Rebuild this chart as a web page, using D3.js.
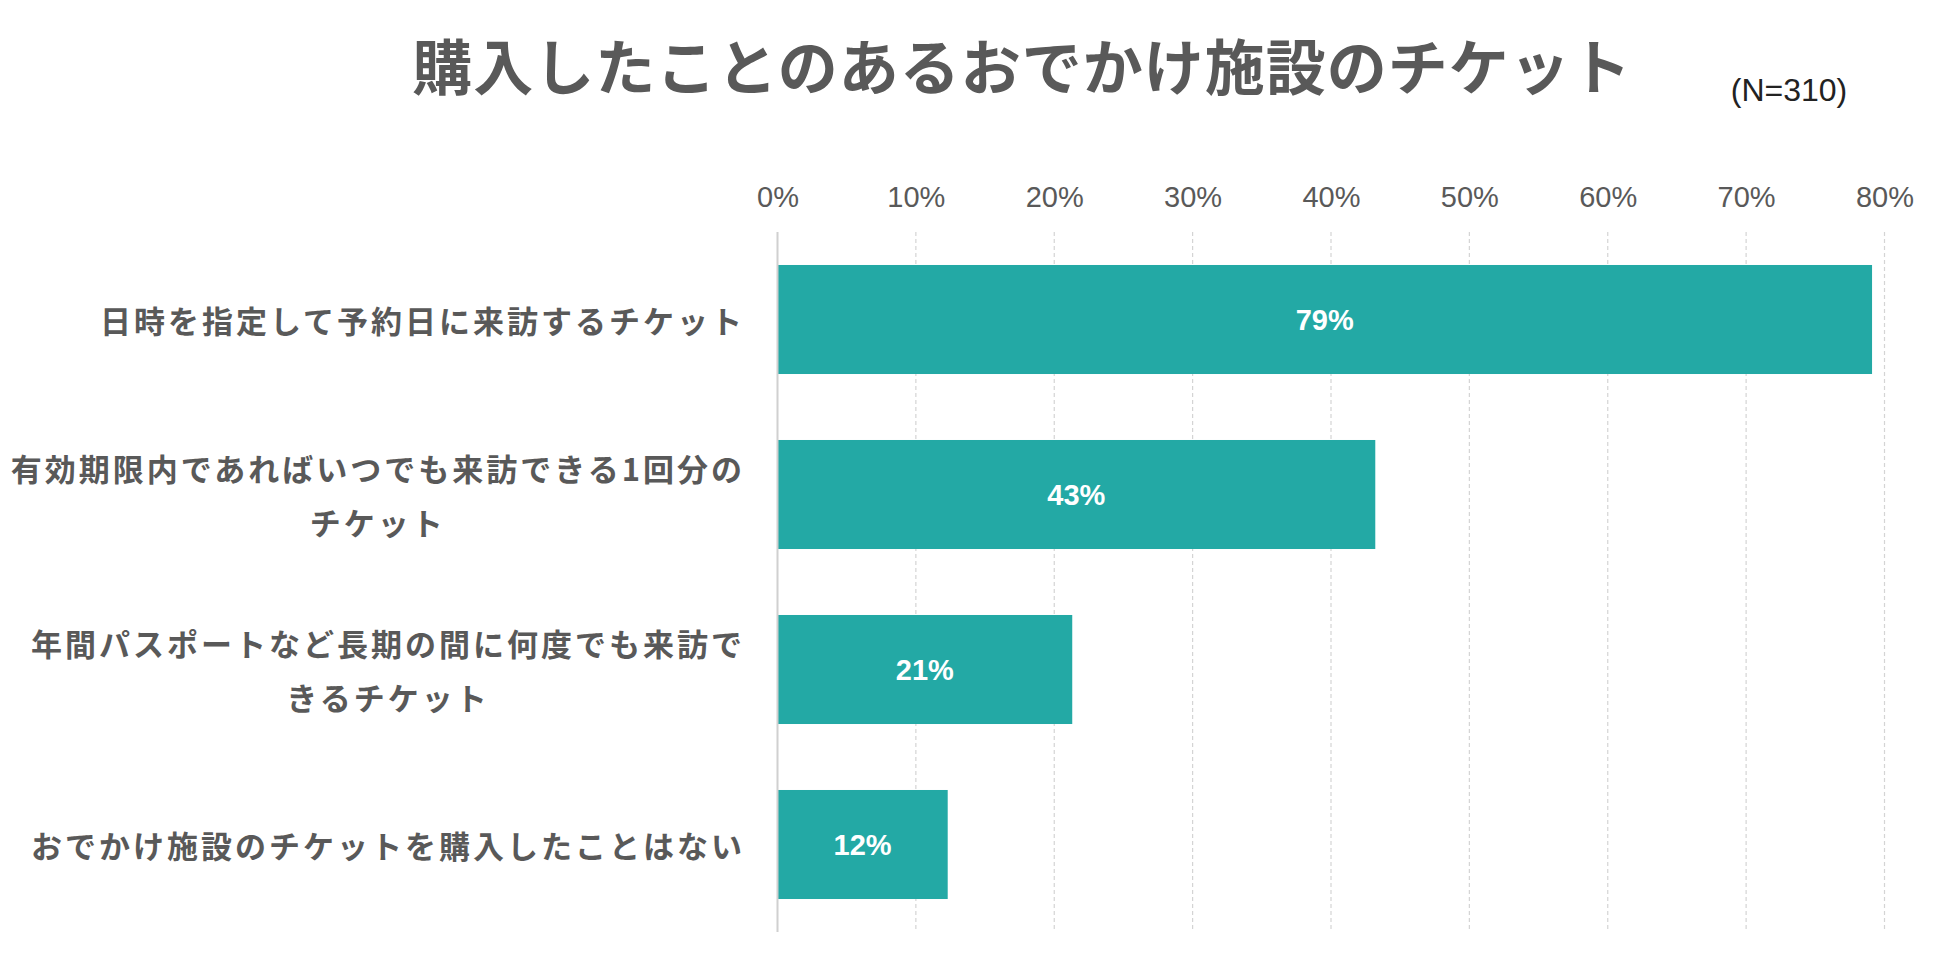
<!DOCTYPE html>
<html>
<head>
<meta charset="utf-8">
<script src="https://cdn.jsdelivr.net/npm/d3@7"></script>
<style>
  body { margin: 0; background: #fff; }
  svg { display: block; }
</style>
</head>
<body>
<div id="chart"></div>
<script>
// ######### DATA ###########
var categories = [
    ["日時を指定して予約日に来訪するチケット"],
    ["有効期限内であればいつでも来訪できる1回分の", "チケット"],
    ["年間パスポートなど長期の間に何度でも来訪で", "きるチケット"],
    ["おでかけ施設のチケットを購入したことはない"]
];
var values = [79.1, 43.2, 21.3, 12.3];
var tickValues = [0, 10, 20, 30, 40, 50, 60, 70, 80];
var title = "購入したことのあるおでかけ施設のチケット";
var sampleNote = "(N=310)";

// ######### PARAMETERS ###########
var width = 1950, height = 953;
var barColor = "#23a9a5", textColor = "#595959";
var jpFont = "'Noto Sans CJK JP', 'Noto Sans', sans-serif";
var latinFont = "'Liberation Sans', Arial, sans-serif";

var svg = d3.select("#chart").append("svg")
    .attr("width", width)
    .attr("height", height);

var x = d3.scaleLinear().domain([0, 80]).range([777.5, 1884.5]);
var y = d3.scaleBand()
    .domain(d3.range(categories.length))
    .range([232, 932])
    .paddingInner(0.377)
    .paddingOuter(0.1885);

// title
svg.append("text")
    .attr("x", 1022).attr("y", 63)
    .attr("text-anchor", "middle")
    .attr("dominant-baseline", "central")
    .style("font-family", jpFont)
    .style("font-weight", "bold")
    .style("font-size", "60px")
    .style("letter-spacing", "1px")
    .style("fill", textColor)
    .text(title);

svg.append("text")
    .attr("x", 1789).attr("y", 90)
    .attr("text-anchor", "middle")
    .attr("dominant-baseline", "central")
    .style("font-family", latinFont)
    .style("font-size", "32px")
    .style("fill", "#222")
    .text(sampleNote);

// grid lines
svg.append("g").selectAll("line")
    .data(tickValues.slice(1))
    .enter().append("line")
    .attr("x1", function(d) { return x(d); })
    .attr("x2", function(d) { return x(d); })
    .attr("y1", 232).attr("y2", 932)
    .style("stroke", "#d4d4d4")
    .style("stroke-width", 1.2)
    .style("stroke-dasharray", "4,3");

// top axis labels
var xAxis = d3.axisTop(x)
    .tickValues(tickValues)
    .tickSize(0)
    .tickFormat(function(d) { return d + "%"; });

var axisG = svg.append("g")
    .attr("transform", "translate(0,210)")
    .call(xAxis);
axisG.select(".domain").remove();
axisG.selectAll("text")
    .style("font-family", latinFont)
    .style("font-size", "29px")
    .style("fill", textColor);

// bars
svg.append("g").selectAll("rect")
    .data(values)
    .enter().append("rect")
    .attr("x", x(0))
    .attr("y", function(d, i) { return y(i); })
    .attr("width", function(d) { return x(d) - x(0); })
    .attr("height", y.bandwidth())
    .style("fill", barColor);

// value labels
svg.append("g").selectAll("text")
    .data(values)
    .enter().append("text")
    .attr("x", function(d) { return (x(0) + x(d)) / 2; })
    .attr("y", function(d, i) { return y(i) + y.bandwidth() / 2; })
    .attr("text-anchor", "middle")
    .attr("dominant-baseline", "central")
    .style("font-family", latinFont)
    .style("font-weight", "bold")
    .style("font-size", "29px")
    .style("fill", "#fff")
    .text(function(d) { return Math.round(d) + "%"; });

// baseline axis line
svg.append("line")
    .attr("x1", x(0)).attr("x2", x(0))
    .attr("y1", 232).attr("y2", 932)
    .style("stroke", "#d0d0d0")
    .style("stroke-width", 2);

// category labels: lines centred in a block right-aligned to the axis
var labelRight = 745, lineGap = 54;
categories.forEach(function(lines, i) {
    var cy = y(i) + y.bandwidth() / 2;
    var g = svg.append("g");
    var texts = lines.map(function(line, j) {
        return g.append("text")
            .attr("y", cy + (j - (lines.length - 1) / 2) * lineGap)
            .attr("text-anchor", "middle")
            .attr("dominant-baseline", "central")
            .style("font-family", jpFont)
            .style("font-weight", "bold")
            .style("font-size", "31px")
            .style("letter-spacing", "3px")
            .style("fill", textColor)
            .text(line);
    });
    var maxW = d3.max(texts, function(t) { return t.node().getComputedTextLength(); });
    texts.forEach(function(t) { t.attr("x", labelRight - maxW / 2); });
});
</script>
</body>
</html>
